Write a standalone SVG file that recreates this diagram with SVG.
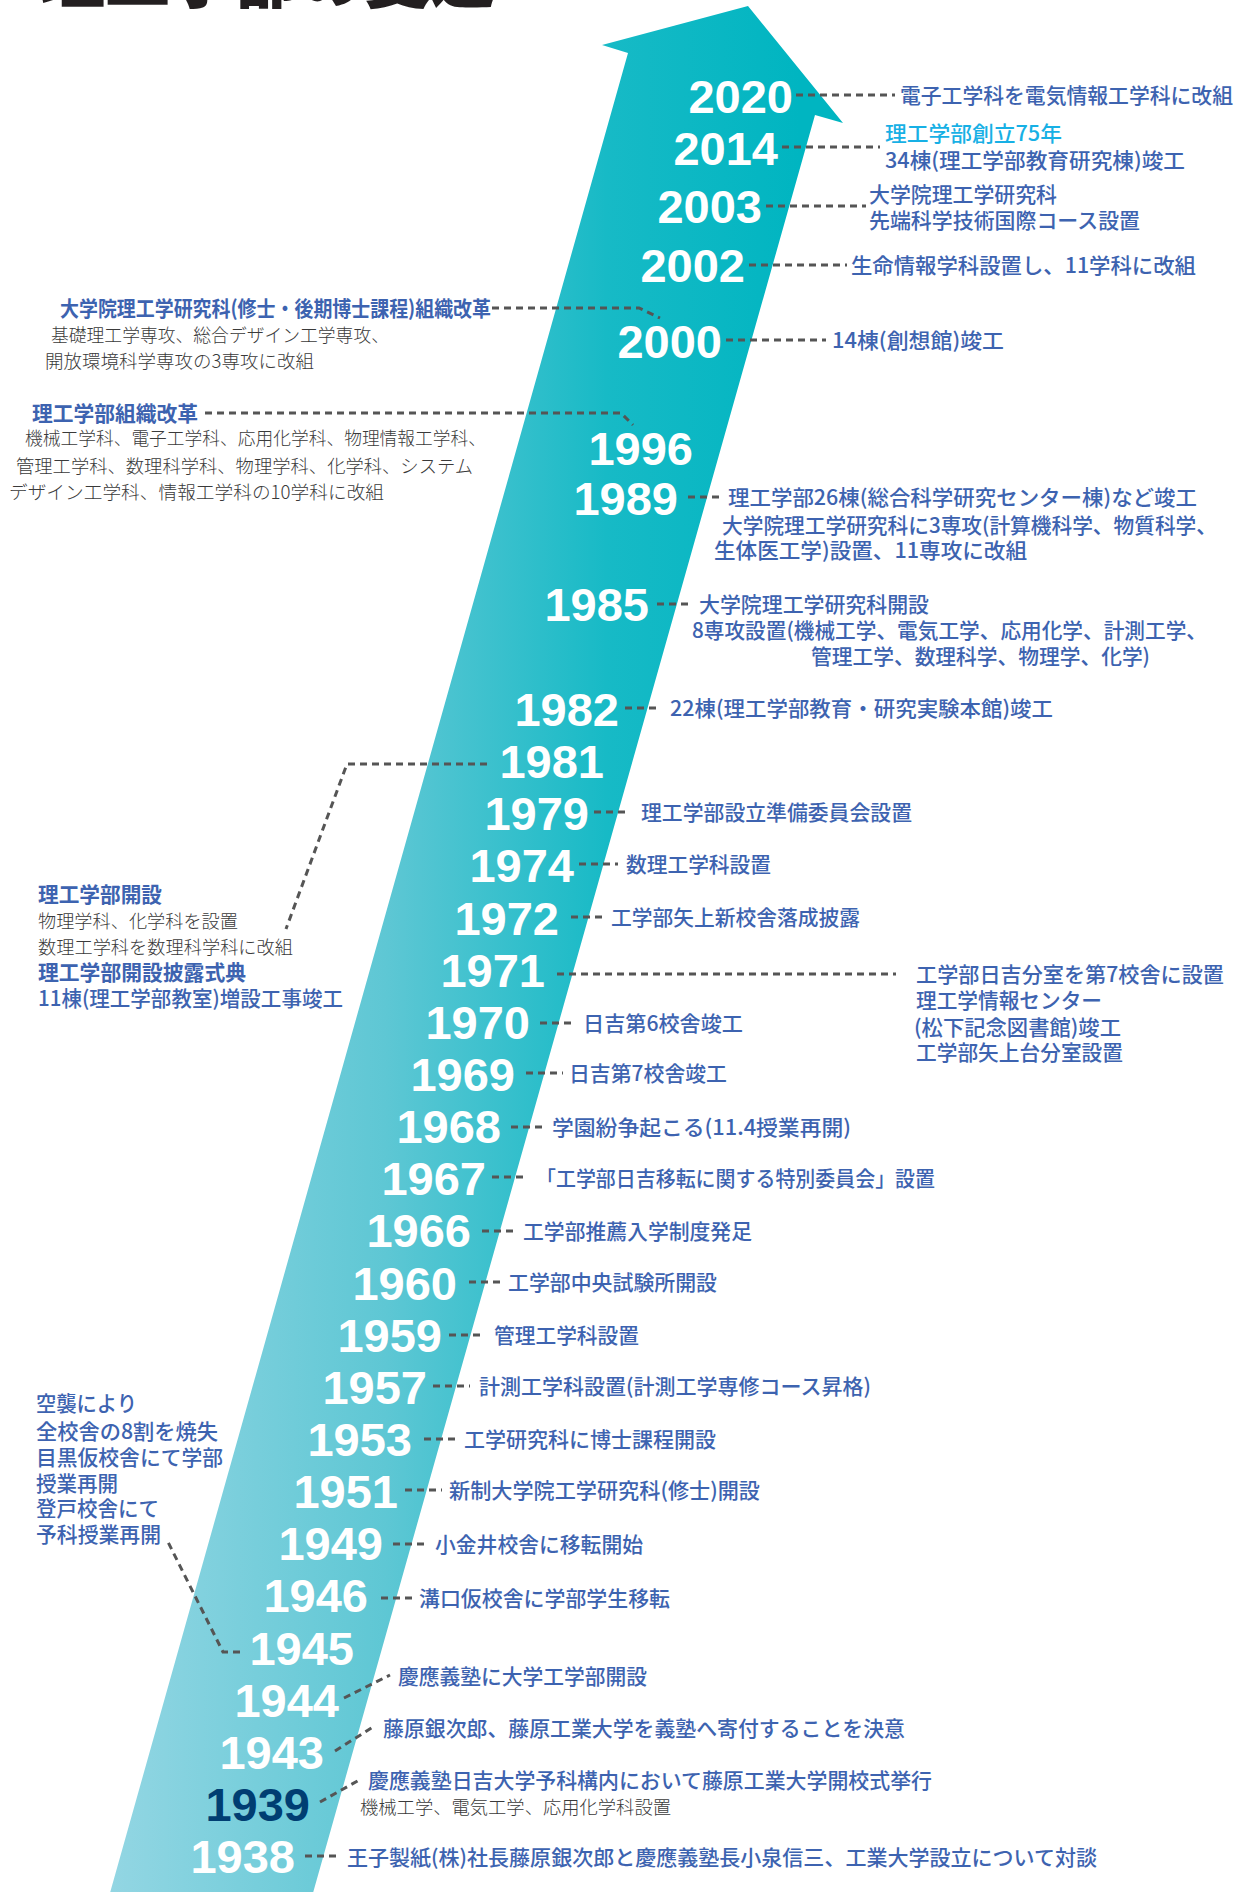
<svg xmlns="http://www.w3.org/2000/svg" width="1244" height="1892" viewBox="0 0 1244 1892">
<defs>
<linearGradient id="ag" gradientUnits="userSpaceOnUse" x1="110" y1="0" x2="800" y2="0">
<stop offset="0" stop-color="#93d6e3"/>
<stop offset="0.4" stop-color="#5ec7d4"/>
<stop offset="0.72" stop-color="#17bac6"/>
<stop offset="1" stop-color="#00b5c1"/>
</linearGradient>
<style>
.yr{font-family:'Liberation Sans',Arial,sans-serif;font-weight:700;font-size:47px;fill:#fff;text-anchor:end}
.dk{fill:#003e72}
.lb{font-family:'Noto Sans CJK JP','Noto Sans CJK SC',sans-serif;font-size:21px;fill:#3d63b0;font-weight:500}
.hd{font-weight:700}
.cy{fill:#17b0e5}
.gr{font-size:18.5px;fill:#3a3a3a;font-weight:300}
.cn{fill:none;stroke:#555;stroke-width:3;stroke-dasharray:7 5}
.tt{font-family:'Noto Sans CJK JP',sans-serif;font-size:66px;font-weight:900;fill:#231f20}
</style>
</defs>
<rect width="1244" height="1892" fill="#fff"/>
<text class="tt" x="40" y="2" textLength="455" lengthAdjust="spacingAndGlyphs">理工学部の変遷</text>
<polygon id="arrow" points="748,6 843,123 815,115 311,1900 108,1900 628,53 602,45" fill="url(#ag)"/>
<g id="connectors">
<path class="cn" d="M796,95H895"/>
<path class="cn" d="M782,147H880"/>
<path class="cn" d="M766,206H866"/>
<path class="cn" d="M749,265H847"/>
<path class="cn" d="M726,340H826"/>
<path class="cn" d="M688,497H724"/>
<path class="cn" d="M657,604H692"/>
<path class="cn" d="M625,708H661"/>
<path class="cn" d="M594,812H630"/>
<path class="cn" d="M579,864H618"/>
<path class="cn" d="M571,917H607"/>
<path class="cn" d="M557,974H896"/>
<path class="cn" d="M540,1023H576"/>
<path class="cn" d="M526,1073H563"/>
<path class="cn" d="M511,1127H547"/>
<path class="cn" d="M492,1177H527"/>
<path class="cn" d="M482,1231H517"/>
<path class="cn" d="M469,1282H502"/>
<path class="cn" d="M449,1335H485"/>
<path class="cn" d="M433,1386H470"/>
<path class="cn" d="M424,1439H457"/>
<path class="cn" d="M405,1490H442"/>
<path class="cn" d="M393,1544H428"/>
<path class="cn" d="M381,1598H417"/>
<path class="cn" d="M344,1698L390,1675"/>
<path class="cn" d="M335,1751L373,1727"/>
<path class="cn" d="M320,1802L361,1779"/>
<path class="cn" d="M305,1856H340"/>
<path class="cn" d="M492,308H639L660,318"/>
<path class="cn" d="M205,413H621L633,425"/>
<path class="cn" d="M487,764H347L286,929"/>
<path class="cn" d="M240,1652H223L168,1542"/>
</g>
<g id="y2020"><text class="yr" x="793" y="113">2020</text><text class="lb" x="900" y="103" textLength="333" lengthAdjust="spacingAndGlyphs">電子工学科を電気情報工学科に改組</text></g>
<g id="y2014"><text class="yr" x="778" y="165">2014</text><text class="lb cy" x="885" y="141" textLength="177" lengthAdjust="spacingAndGlyphs">理工学部創立75年</text><text class="lb" x="885" y="168" textLength="300" lengthAdjust="spacingAndGlyphs">34棟(理工学部教育研究棟)竣工</text></g>
<g id="y2003"><text class="yr" x="762" y="223">2003</text><text class="lb" x="869" y="202" textLength="188" lengthAdjust="spacingAndGlyphs">大学院理工学研究科</text><text class="lb" x="869" y="228" textLength="271" lengthAdjust="spacingAndGlyphs">先端科学技術国際コース設置</text></g>
<g id="y2002"><text class="yr" x="745" y="282">2002</text><text class="lb" x="851" y="273" textLength="345" lengthAdjust="spacingAndGlyphs">生命情報学科設置し、11学科に改組</text></g>
<g id="y2000"><text class="yr" x="722" y="358">2000</text><text class="lb" x="832" y="348" textLength="172" lengthAdjust="spacingAndGlyphs">14棟(創想館)竣工</text>
<text class="lb hd" x="60" y="316" textLength="431" lengthAdjust="spacingAndGlyphs">大学院理工学研究科(修士・後期博士課程)組織改革</text>
<text class="lb gr" x="51" y="342" textLength="338" lengthAdjust="spacingAndGlyphs">基礎理工学専攻、総合デザイン工学専攻、</text>
<text class="lb gr" x="45" y="368" textLength="269" lengthAdjust="spacingAndGlyphs">開放環境科学専攻の3専攻に改組</text></g>
<g id="y1996"><text class="yr" x="693" y="465">1996</text>
<text class="lb hd" x="32" y="421" textLength="166" lengthAdjust="spacingAndGlyphs">理工学部組織改革</text>
<text class="lb gr" x="25" y="445" textLength="461" lengthAdjust="spacingAndGlyphs">機械工学科、電子工学科、応用化学科、物理情報工学科、</text>
<text class="lb gr" x="16" y="473" textLength="457" lengthAdjust="spacingAndGlyphs">管理工学科、数理科学科、物理学科、化学科、システム</text>
<text class="lb gr" x="9" y="499" textLength="375" lengthAdjust="spacingAndGlyphs">デザイン工学科、情報工学科の10学科に改組</text></g>
<g id="y1989"><text class="yr" x="678" y="515">1989</text><text class="lb" x="728" y="505" textLength="469" lengthAdjust="spacingAndGlyphs">理工学部26棟(総合科学研究センター棟)など竣工</text><text class="lb" x="722" y="533" textLength="495" lengthAdjust="spacingAndGlyphs">大学院理工学研究科に3専攻(計算機科学、物質科学、</text><text class="lb" x="714" y="558" textLength="313" lengthAdjust="spacingAndGlyphs">生体医工学)設置、11専攻に改組</text></g>
<g id="y1985"><text class="yr" x="649" y="621">1985</text><text class="lb" x="699" y="612" textLength="230" lengthAdjust="spacingAndGlyphs">大学院理工学研究科開設</text><text class="lb" x="692" y="638" textLength="515" lengthAdjust="spacingAndGlyphs">8専攻設置(機械工学、電気工学、応用化学、計測工学、</text><text class="lb" x="811" y="664" textLength="339" lengthAdjust="spacingAndGlyphs">管理工学、数理科学、物理学、化学)</text></g>
<g id="y1982"><text class="yr" x="619" y="726">1982</text><text class="lb" x="670" y="716" textLength="383" lengthAdjust="spacingAndGlyphs">22棟(理工学部教育・研究実験本館)竣工</text></g>
<g id="y1981"><text class="yr" x="604" y="778">1981</text>
<text class="lb hd" x="38" y="902" textLength="124" lengthAdjust="spacingAndGlyphs">理工学部開設</text>
<text class="lb gr" x="38" y="928" textLength="200" lengthAdjust="spacingAndGlyphs">物理学科、化学科を設置</text>
<text class="lb gr" x="38" y="954" textLength="255" lengthAdjust="spacingAndGlyphs">数理工学科を数理科学科に改組</text>
<text class="lb hd" x="38" y="980" textLength="208" lengthAdjust="spacingAndGlyphs">理工学部開設披露式典</text>
<text class="lb" x="38" y="1006" textLength="305" lengthAdjust="spacingAndGlyphs">11棟(理工学部教室)増設工事竣工</text></g>
<g id="y1979"><text class="yr" x="589" y="830">1979</text><text class="lb" x="641" y="820" textLength="271" lengthAdjust="spacingAndGlyphs">理工学部設立準備委員会設置</text></g>
<g id="y1974"><text class="yr" x="574" y="882">1974</text><text class="lb" x="626" y="872" textLength="145" lengthAdjust="spacingAndGlyphs">数理工学科設置</text></g>
<g id="y1972"><text class="yr" x="559" y="935">1972</text><text class="lb" x="611" y="925" textLength="249" lengthAdjust="spacingAndGlyphs">工学部矢上新校舎落成披露</text></g>
<g id="y1971"><text class="yr" x="545" y="987">1971</text><text class="lb" x="916" y="982" textLength="308" lengthAdjust="spacingAndGlyphs">工学部日吉分室を第7校舎に設置</text><text class="lb" x="916" y="1008" textLength="186" lengthAdjust="spacingAndGlyphs">理工学情報センター</text><text class="lb" x="914" y="1035" textLength="207" lengthAdjust="spacingAndGlyphs">(松下記念図書館)竣工</text><text class="lb" x="916" y="1060" textLength="207" lengthAdjust="spacingAndGlyphs">工学部矢上台分室設置</text></g>
<g id="y1970"><text class="yr" x="530" y="1039">1970</text><text class="lb" x="583" y="1031" textLength="160" lengthAdjust="spacingAndGlyphs">日吉第6校舎竣工</text></g>
<g id="y1969"><text class="yr" x="515" y="1091">1969</text><text class="lb" x="569" y="1081" textLength="158" lengthAdjust="spacingAndGlyphs">日吉第7校舎竣工</text></g>
<g id="y1968"><text class="yr" x="501" y="1143">1968</text><text class="lb" x="552" y="1135" textLength="299" lengthAdjust="spacingAndGlyphs">学園紛争起こる(11.4授業再開)</text></g>
<g id="y1967"><text class="yr" x="486" y="1195">1967</text><text class="lb" x="536" y="1186" textLength="399" lengthAdjust="spacingAndGlyphs">「工学部日吉移転に関する特別委員会」設置</text></g>
<g id="y1966"><text class="yr" x="471" y="1247">1966</text><text class="lb" x="523" y="1239" textLength="229" lengthAdjust="spacingAndGlyphs">工学部推薦入学制度発足</text></g>
<g id="y1960"><text class="yr" x="457" y="1300">1960</text><text class="lb" x="508" y="1290" textLength="209" lengthAdjust="spacingAndGlyphs">工学部中央試験所開設</text></g>
<g id="y1959"><text class="yr" x="442" y="1352">1959</text><text class="lb" x="494" y="1343" textLength="145" lengthAdjust="spacingAndGlyphs">管理工学科設置</text></g>
<g id="y1957"><text class="yr" x="427" y="1404">1957</text><text class="lb" x="479" y="1394" textLength="392" lengthAdjust="spacingAndGlyphs">計測工学科設置(計測工学専修コース昇格)</text></g>
<g id="y1953"><text class="yr" x="412" y="1456">1953</text><text class="lb" x="464" y="1447" textLength="252" lengthAdjust="spacingAndGlyphs">工学研究科に博士課程開設</text></g>
<g id="y1951"><text class="yr" x="398" y="1508">1951</text><text class="lb" x="449" y="1498" textLength="311" lengthAdjust="spacingAndGlyphs">新制大学院工学研究科(修士)開設</text></g>
<g id="y1949"><text class="yr" x="383" y="1560">1949</text><text class="lb" x="435" y="1552" textLength="208" lengthAdjust="spacingAndGlyphs">小金井校舎に移転開始</text></g>
<g id="y1946"><text class="yr" x="368" y="1612">1946</text><text class="lb" x="419" y="1606" textLength="251" lengthAdjust="spacingAndGlyphs">溝口仮校舎に学部学生移転</text></g>
<g id="y1945"><text class="yr" x="354" y="1665">1945</text>
<text class="lb" x="36" y="1411" textLength="101" lengthAdjust="spacingAndGlyphs">空襲により</text>
<text class="lb" x="36" y="1439" textLength="182" lengthAdjust="spacingAndGlyphs">全校舎の8割を焼失</text>
<text class="lb" x="36" y="1465" textLength="187" lengthAdjust="spacingAndGlyphs">目黒仮校舎にて学部</text>
<text class="lb" x="36" y="1491" textLength="82" lengthAdjust="spacingAndGlyphs">授業再開</text>
<text class="lb" x="36" y="1516" textLength="123" lengthAdjust="spacingAndGlyphs">登戸校舎にて</text>
<text class="lb" x="36" y="1542" textLength="125" lengthAdjust="spacingAndGlyphs">予科授業再開</text></g>
<g id="y1944"><text class="yr" x="339" y="1717">1944</text><text class="lb" x="398" y="1684" textLength="249" lengthAdjust="spacingAndGlyphs">慶應義塾に大学工学部開設</text></g>
<g id="y1943"><text class="yr" x="324" y="1769">1943</text><text class="lb" x="383" y="1736" textLength="522" lengthAdjust="spacingAndGlyphs">藤原銀次郎、藤原工業大学を義塾へ寄付することを決意</text></g>
<g id="y1939"><text class="yr dk" x="310" y="1821">1939</text><text class="lb" x="368" y="1788" textLength="564" lengthAdjust="spacingAndGlyphs">慶應義塾日吉大学予科構内において藤原工業大学開校式挙行</text><text class="lb gr" x="360" y="1814" textLength="311" lengthAdjust="spacingAndGlyphs">機械工学、電気工学、応用化学科設置</text></g>
<g id="y1938"><text class="yr" x="295" y="1873">1938</text><text class="lb" x="347" y="1865" textLength="750" lengthAdjust="spacingAndGlyphs">王子製紙(株)社長藤原銀次郎と慶應義塾長小泉信三、工業大学設立について対談</text></g>
</svg>
